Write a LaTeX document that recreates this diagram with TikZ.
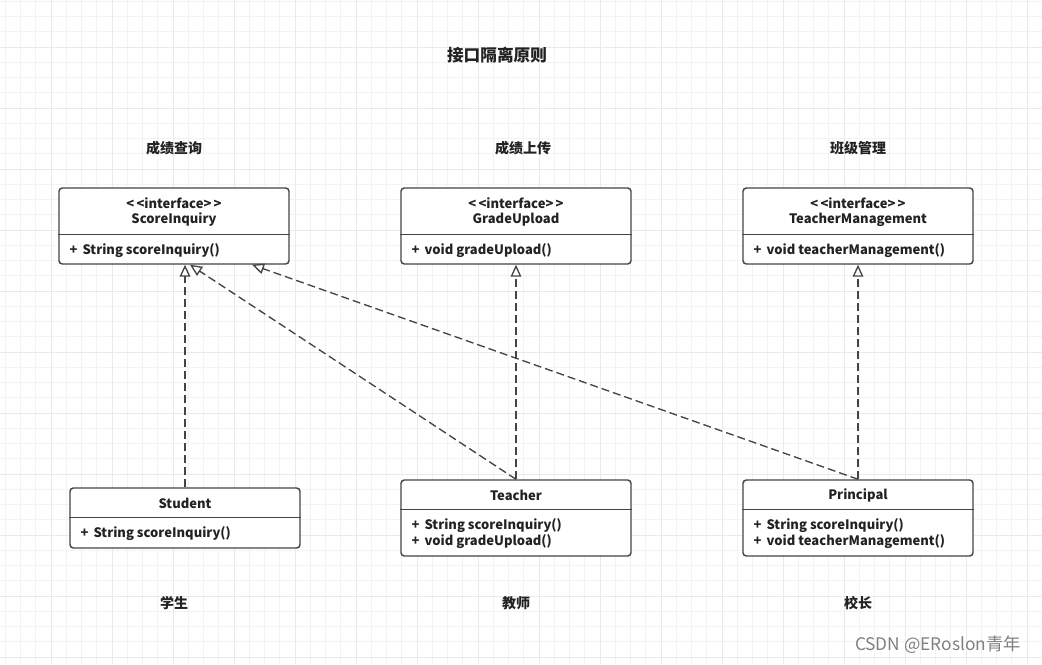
\documentclass[tikz,border=0pt]{standalone}
\usepackage{fontspec}
\setmainfont{Noto Sans CJK SC}
\usetikzlibrary{arrows.meta,calc}
\definecolor{gridminor}{HTML}{F3F3F3}
\definecolor{gridmajor}{HTML}{EAEAEA}
\definecolor{linec}{HTML}{444444}
\definecolor{textc}{HTML}{222222}
\begin{document}
\begin{tikzpicture}[x=0.75pt,y=-0.75pt,
  box/.style={draw=linec, line width=1.1pt, rounded corners=2.5pt, fill=white, inner sep=0pt, minimum width=172.5pt},
  divline/.style={draw=linec, line width=1.1pt},
  txt/.style={font=\bfseries\fontsize{9.75}{12}\selectfont, text=textc, inner sep=0pt},
  lbl/.style={font=\bfseries\fontsize{10.5}{12}\selectfont, text=textc, inner sep=0pt},
  dep/.style={draw=linec, line width=1pt, dash pattern=on 6pt off 3pt, -{Triangle[length=9pt, width=8pt, fill=white, line width=1pt]}},
  minorline/.style={draw=gridminor, line width=0.75pt},
  majorline/.style={draw=gridmajor, line width=0.75pt}]
\useasboundingbox (0,0) rectangle (1042,664);
\fill[white] (0,0) rectangle (1042,664);
% grid
\foreach \i in {0,...,68} {
  \draw[minorline] ({5.25+\i*15.25},0) -- ({5.25+\i*15.25},664);
}
\foreach \i in {0,...,43} {
  \draw[minorline] (0,{1.25+\i*15.25}) -- (1042,{1.25+\i*15.25});
}
\foreach \i in {0,...,16} {
  \draw[majorline] ({51+\i*61},0) -- ({51+\i*61},664);
}
\foreach \i in {0,...,10} {
  \draw[majorline] (0,{47+\i*61}) -- (1042,{47+\i*61});
}
% title and labels
\node[font=\bfseries\fontsize{12.5}{14}\selectfont, text=textc, inner sep=0pt] (title) at (497,55) {接口隔离原则};
\node[lbl] (l1) at (174,148) {成绩查询};
\node[lbl] (l2) at (523,148) {成绩上传};
\node[lbl] (l3) at (858,148) {班级管理};
\node[lbl] (l4) at (174,603) {学生};
\node[lbl] (l5) at (516,603) {教师};
\node[lbl] (l6) at (858,603) {校长};
% interface boxes
\node[box, minimum height=57pt] (si) at (174,226) {};
\node[box, minimum height=57pt] (gu) at (516,226) {};
\node[box, minimum height=57pt] (tm) at (858,226) {};
\draw[divline] ($(si.north west)+(0,47)$) -- ($(si.north east)+(0,47)$);
\draw[divline] ($(gu.north west)+(0,47)$) -- ($(gu.north east)+(0,47)$);
\draw[divline] ($(tm.north west)+(0,47)$) -- ($(tm.north east)+(0,47)$);
\node[txt] (si1) at ($(si.north)+(0,16)$) {\textless\,\textless interface\textgreater\,\textgreater};
\node[txt] (si2) at ($(si.north)+(0,32.5)$) {ScoreInquiry};
\node[txt, anchor=west] (si3) at ($(si.north west)+(11,63.5)$) {+\, String scoreInquiry()};
\node[txt] (gu1) at ($(gu.north)+(0,16)$) {\textless\,\textless interface\textgreater\,\textgreater};
\node[txt] (gu2) at ($(gu.north)+(0,32.5)$) {GradeUpload};
\node[txt, anchor=west] (gu3) at ($(gu.north west)+(11,63.5)$) {+\, void gradeUpload()};
\node[txt] (tm1) at ($(tm.north)+(0,16)$) {\textless\,\textless interface\textgreater\,\textgreater};
\node[txt] (tm2) at ($(tm.north)+(0,32.5)$) {TeacherManagement};
\node[txt, anchor=west] (tm3) at ($(tm.north west)+(11,63.5)$) {+\, void teacherManagement()};
% class boxes
\node[box, minimum height=45pt] (st) at (185,518) {};
\node[box, minimum height=57pt] (te) at (516,518) {};
\node[box, minimum height=57pt] (pr) at (858,518) {};
\draw[divline] ($(st.north west)+(0,30)$) -- ($(st.north east)+(0,30)$);
\draw[divline] ($(te.north west)+(0,30)$) -- ($(te.north east)+(0,30)$);
\draw[divline] ($(pr.north west)+(0,30)$) -- ($(pr.north east)+(0,30)$);
\node[txt] (st1) at ($(st.north)+(0,16)$) {Student};
\node[txt, anchor=west] (st2) at ($(st.north west)+(11,46.5)$) {+\, String scoreInquiry()};
\node[txt] (te1) at ($(te.north)+(0,16)$) {Teacher};
\node[txt, anchor=west] (te2) at ($(te.north west)+(11,46.5)$) {+\, String scoreInquiry()};
\node[txt, anchor=west] (te3) at ($(te.north west)+(11,62.5)$) {+\, void gradeUpload()};
\node[txt] (pr1) at ($(pr.north)+(0,16)$) {Principal};
\node[txt, anchor=west] (pr2) at ($(pr.north west)+(11,46.5)$) {+\, String scoreInquiry()};
\node[txt, anchor=west] (pr3) at ($(pr.north west)+(11,62.5)$) {+\, void teacherManagement()};
% dependencies
\draw[dep] (st.north) -- (si.south -| st.north);
\draw[dep] (te.north) -- ($(si.south)+(16,0)$);
\draw[dep] (pr.north) -- ($(si.south)+(78,0)$);
\draw[dep] (te.north) -- (gu.south);
\draw[dep] (pr.north) -- (tm.south);
% watermark
\node[font=\fontsize{13}{15}\selectfont, text=black!50, inner sep=0pt] (wm) at (938,645) {CSDN @ERoslon青年};
\end{tikzpicture}
\end{document}
